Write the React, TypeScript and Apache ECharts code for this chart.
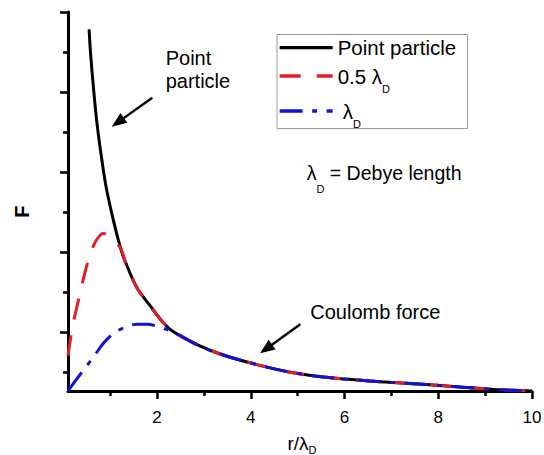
import React, { useEffect, useRef } from "react";
import * as echarts from "echarts";

// ---- data ----
const R_POINT = [0.55, 0.58, 0.64, 0.71, 0.8, 0.91, 1.07, 1.22, 1.32, 1.57, 1.86, 2.11, 2.35, 2.85, 3.41, 4.13, 4.84, 5.55, 6.54, 7.04, 7.75, 8.46, 9.17, 10];
const F_POINT = [4.52, 4.23, 3.81, 3.39, 2.98, 2.56, 2.13, 1.79, 1.62, 1.29, 1.06, 0.87, 0.74, 0.58, 0.45, 0.33, 0.235, 0.175, 0.125, 0.105, 0.08, 0.05, 0.02, 0.0];

// 0.5 λD curve (before it merges with the point-particle curve)
const R_HALF = [0.1, 0.15, 0.22, 0.36, 0.47, 0.58, 0.68, 0.76, 0.84, 0.92, 1.0, 1.1];
const F_HALF = [0.44, 0.64, 0.87, 1.23, 1.5, 1.72, 1.86, 1.93, 1.97, 1.96, 1.92, 1.86];

// λD curve (before it merges with the point-particle curve)
const R_ONE = [0.1, 0.3, 0.47, 0.65, 0.86, 1.07, 1.29, 1.57, 1.79, 2.0, 2.2];
const F_ONE = [0, 0.16, 0.29, 0.43, 0.6, 0.72, 0.79, 0.835, 0.835, 0.81, 0.77];

const SERIES_NAMES = ["Point particle", "0.5 λD", "λD"];
const X_MAJOR = [2, 4, 6, 8, 10];
const X_MINOR = [1, 3, 5, 7, 9];
const Y_MAJOR = [0.7375, 1.7375, 2.7375, 3.7375, 4.7375];
const Y_MINOR = [0.2375, 1.2375, 2.2375, 3.2375, 4.2375];
const X_MIN = 0.1;
const X_MAX = 10;
const Y_MIN = 0;
const Y_MAX = 4.7375;

const FONT = 'Arial, "Liberation Sans", sans-serif';

const pairs = (rs: number[], fs: number[]) => rs.map((r, i) => [r, fs[i]]);
const pointData = pairs(R_POINT, F_POINT);
const halfData = pairs(R_HALF, F_HALF).concat(
  pointData.filter(([r]) => r > R_HALF[R_HALF.length - 1])
);
const oneData = pairs(R_ONE, F_ONE).concat(
  pointData.filter(([r]) => r > R_ONE[R_ONE.length - 1])
);

function arrow(x1: number, y1: number, x2: number, y2: number) {
  const dx = x2 - x1;
  const dy = y2 - y1;
  const len = Math.hypot(dx, dy);
  const ux = dx / len;
  const uy = dy / len;
  const head = 15;
  const half = 6;
  const bx = x2 - ux * head;
  const by = y2 - uy * head;
  return {
    type: "group",
    children: [
      {
        type: "line",
        shape: { x1, y1, x2: bx + ux * 2, y2: by + uy * 2 },
        style: { stroke: "#000", lineWidth: 2.4 },
      },
      {
        type: "polygon",
        shape: {
          points: [
            [x2, y2],
            [bx - uy * half, by + ux * half],
            [bx + uy * half, by - ux * half],
          ],
        },
        style: { fill: "#000" },
      },
    ],
  };
}

const subRich = (size: number, shift: number) => ({
  fontSize: size,
  fontFamily: FONT,
  color: "#000",
  lineHeight: 12,
  padding: [shift * 2, 0, 0, 0],
});

export default function App() {
  const ref = useRef<HTMLDivElement>(null);

  useEffect(() => {
    if (!ref.current) return;
    const chart = echarts.init(ref.current, undefined, { renderer: "svg" });

    const legendRich = {
      m: { fontSize: 20.5, fontFamily: FONT, color: "#000", lineHeight: 22 },
      mp: { fontSize: 20.5, fontFamily: FONT, color: "#000", lineHeight: 22, padding: [0, 0, 0, 5] },
      s: subRich(11, 13),
    };
    const legendBase = {
      orient: "vertical",
      left: 278,
      itemWidth: 53,
      itemHeight: 60,
      itemGap: 0,
      padding: 0,
      selectedMode: false,
      itemStyle: { opacity: 0, borderWidth: 0 },
      lineStyle: { width: 3.3 },
      textStyle: { color: "#000", fontSize: 20.5, fontFamily: FONT, rich: legendRich },
    };

    const option: any = {
      animation: false,
      backgroundColor: "#fff",
      textStyle: { fontFamily: FONT },
      grid: {
        left: 68,
        right: 12,
        top: 12,
        bottom: 64,
        containLabel: false,
        outerBoundsMode: "none",
      },
      xAxis: [
        {
          type: "value",
          min: X_MIN,
          max: X_MAX,
          position: "bottom",
          name: "{m|r/λ}{s|D}",
          nameLocation: "middle",
          nameGap: 29,
          nameTextStyle: {
            color: "#000",
            fontSize: 19,
            padding: [0, 0, 0, 4],
            rich: {
              m: { fontSize: 19, fontFamily: FONT, color: "#000", lineHeight: 20 },
              s: subRich(11, 7),
            },
          },
          axisLine: { show: true, lineStyle: { color: "#000", width: 3 } },
          axisTick: {
            show: true,
            customValues: X_MAJOR,
            length: 8,
            lineStyle: { color: "#000", width: 2.5 },
          },
          axisLabel: {
            show: true,
            customValues: X_MAJOR,
            fontSize: 17,
            color: "#000",
            fontFamily: FONT,
            margin: 18,
          },
          splitLine: { show: false },
        },
        {
          type: "value",
          min: X_MIN,
          max: X_MAX,
          position: "bottom",
          offset: 0,
          axisLine: { show: false },
          axisTick: {
            show: true,
            customValues: X_MINOR,
            length: 5,
            lineStyle: { color: "#000", width: 2.5 },
          },
          axisLabel: { show: false },
          splitLine: { show: false },
        },
      ],
      yAxis: [
        {
          type: "value",
          min: Y_MIN,
          max: Y_MAX,
          position: "left",
          axisLine: { show: true, lineStyle: { color: "#000", width: 3 } },
          axisTick: {
            show: true,
            customValues: Y_MAJOR,
            length: 8,
            lineStyle: { color: "#000", width: 2.5 },
          },
          axisLabel: { show: false },
          splitLine: { show: false },
        },
        {
          type: "value",
          min: Y_MIN,
          max: Y_MAX,
          position: "left",
          offset: 0,
          axisLine: { show: false },
          axisTick: {
            show: true,
            customValues: Y_MINOR,
            length: 5,
            lineStyle: { color: "#000", width: 2.5 },
          },
          axisLabel: { show: false },
          splitLine: { show: false },
        },
      ],
      legend: [
        { ...legendBase, top: 23.7, data: [SERIES_NAMES[0]], formatter: "{m|Point particle}" },
        { ...legendBase, top: 52, data: [SERIES_NAMES[1]], formatter: "{m|0.5 λ}{s|D}" },
        { ...legendBase, top: 87, data: [SERIES_NAMES[2]], formatter: "{mp|λ}{s|D}" },
      ],
      series: [
        {
          name: SERIES_NAMES[0],
          type: "line",
          data: pointData,
          smooth: 0.3,
          symbol: "none",
          lineStyle: { color: "#000", width: 3 },
          itemStyle: { color: "#000" },
          z: 2,
        },
        {
          name: SERIES_NAMES[1],
          type: "line",
          data: halfData,
          smooth: 0.3,
          symbol: "none",
          lineStyle: { color: "#e31e24", width: 3, type: [21, 16] },
          itemStyle: { color: "#e31e24" },
          z: 3,
        },
        {
          name: SERIES_NAMES[2],
          type: "line",
          data: oneData,
          smooth: 0.3,
          symbol: "none",
          lineStyle: { color: "#1212d4", width: 3, type: [23, 9.5, 5, 9.5] },
          itemStyle: { color: "#1212d4" },
          z: 4,
        },
      ],
      graphic: [
        {
          type: "rect",
          shape: { x: 277, y: 34.5, width: 190.5, height: 94 },
          style: { fill: "none", stroke: "#9a9a9a", lineWidth: 1 },
          silent: true,
        },
        {
          type: "text",
          x: 165.7,
          y: 69.7,
          style: {
            text: "Point\nparticle",
            fontSize: 20,
            fontFamily: FONT,
            fill: "#000",
            lineHeight: 23,
            align: "left",
            verticalAlign: "middle",
          },
        },
        {
          type: "text",
          x: 310.3,
          y: 311.5,
          style: {
            text: "Coulomb force",
            fontSize: 20,
            fontFamily: FONT,
            fill: "#000",
            align: "left",
            verticalAlign: "middle",
          },
        },
        {
          type: "text",
          x: 306.7,
          y: 173.3,
          style: {
            text: "{m|λ}{s|D}{m| = Debye length}",
            fontSize: 19,
            fontFamily: FONT,
            fill: "#000",
            align: "left",
            verticalAlign: "middle",
            rich: {
              m: { fontSize: 19.5, fontFamily: FONT, fill: "#000", lineHeight: 22 },
              s: { fontSize: 11, fontFamily: FONT, fill: "#000", lineHeight: 12, padding: [32, 0, 0, 0] },
            },
          },
        },
        {
          type: "text",
          x: 21.7,
          y: 211.7,
          rotation: Math.PI / 2,
          style: {
            text: "F",
            fontSize: 20,
            fontWeight: "bold",
            fontFamily: FONT,
            fill: "#000",
            align: "center",
            verticalAlign: "middle",
          },
        },
        arrow(152.3, 97.7, 111.7, 126.7),
        arrow(300.3, 324.3, 260, 353.3),
      ],
    };

    chart.setOption(option);
    return () => chart.dispose();
  }, []);

  return (
    <div
      ref={ref}
      style={{ position: "fixed", left: 0, top: 0, width: 544, height: 455, background: "#fff" }}
    />
  );
}
